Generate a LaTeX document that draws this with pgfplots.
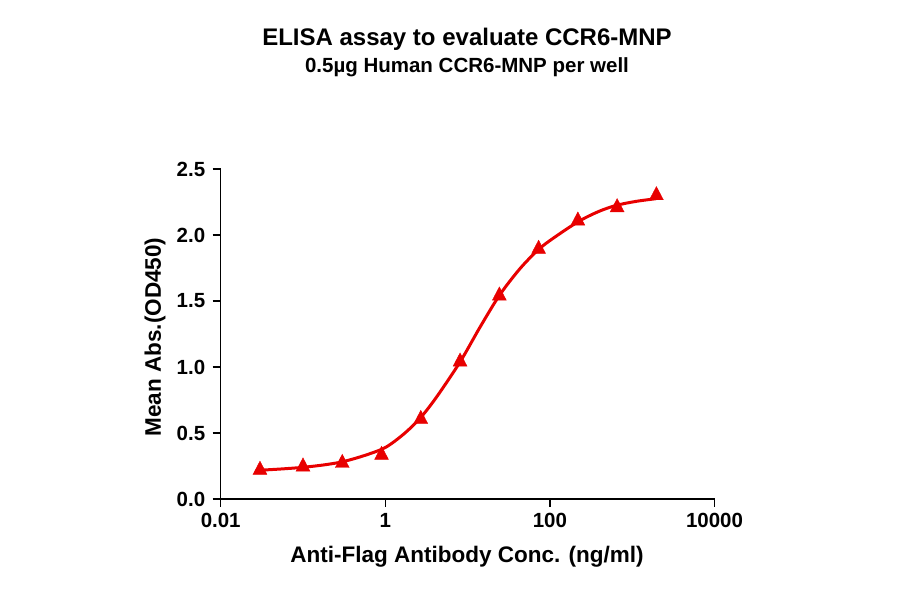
\documentclass[border=0pt]{standalone}
\usepackage{fontspec}
\setmainfont{Liberation Sans}
\usepackage{pgfplots}
\pgfplotsset{compat=1.18}

\definecolor{curvered}{RGB}{232,0,0}

\begin{document}
\begin{tikzpicture}
\path[use as bounding box] (0pt,0pt) rectangle (900pt,594pt);

\begin{axis}[
    at={(220.7pt,95pt)}, anchor=south west,
    scale only axis, width=493.8pt, height=330pt,
    xmode=log, log basis x=10,
    xmin=0.01, xmax=10000, ymin=0, ymax=2.5,
    axis lines=left,
    axis line style={-, line width=1.4pt},
    xtick={0.01,1,100,10000},
    xticklabels={0.01,1,100,10000},
    ytick={0,0.5,1,1.5,2,2.5},
    xticklabel style={yshift=-3pt},
    yticklabel style={xshift=-4pt, /pgf/number format/.cd, fixed, fixed zerofill, precision=1},
    minor tick num=0,
    xminorticks=false,
    tick align=outside,
    major tick length=8pt,
    tick style={line width=1.4pt, black},
    tick label style={font=\fontsize{20.5}{24}\selectfont\bfseries},
    /pgf/number format/assume math mode=true,
    clip=false,
]
% fitted curve
\addplot[curvered, line width=3pt, smooth, no marks] coordinates {
    (0.0302,0.218) (0.0562,0.228) (0.1,0.240) (0.178,0.258) (0.302,0.282)
    (0.562,0.33) (1.0,0.39) (1.66,0.49) (2.63,0.61) (4.17,0.77)
    (8.13,1.04) (14.1,1.30) (24.5,1.545) (43.7,1.748) (75.9,1.90)
    (132,2.01) (234,2.11) (398,2.18) (646,2.225) (1122,2.255) (1950,2.275)
};
% measured points
\addplot[only marks, mark=triangle*, mark size=8pt, curvered, mark options={draw=curvered, fill=curvered, yscale=1.1}] coordinates {
    (0.03,0.22) (0.1,0.245) (0.3,0.272) (0.9,0.333) (2.7,0.605)
    (8.1,1.04) (24.3,1.54) (72.9,1.894) (218.7,2.108) (656.1,2.209) (1968.3,2.30)
};
\end{axis}

\node at (467pt,555pt) {\fontsize{24}{28}\selectfont\bfseries ELISA assay to evaluate CCR6-MNP};
\node at (467pt,527pt) {\fontsize{20.5}{24}\selectfont\bfseries 0.5µg Human CCR6-MNP per well};
\node at (467pt,37pt) {\fontsize{22.5}{26}\selectfont\bfseries Anti-Flag Antibody Conc. (ng/ml)};
\node[rotate=90] at (155pt,257pt) {\fontsize{22.5}{26}\selectfont\bfseries Mean Abs.(OD450)};
\end{tikzpicture}
\end{document}
